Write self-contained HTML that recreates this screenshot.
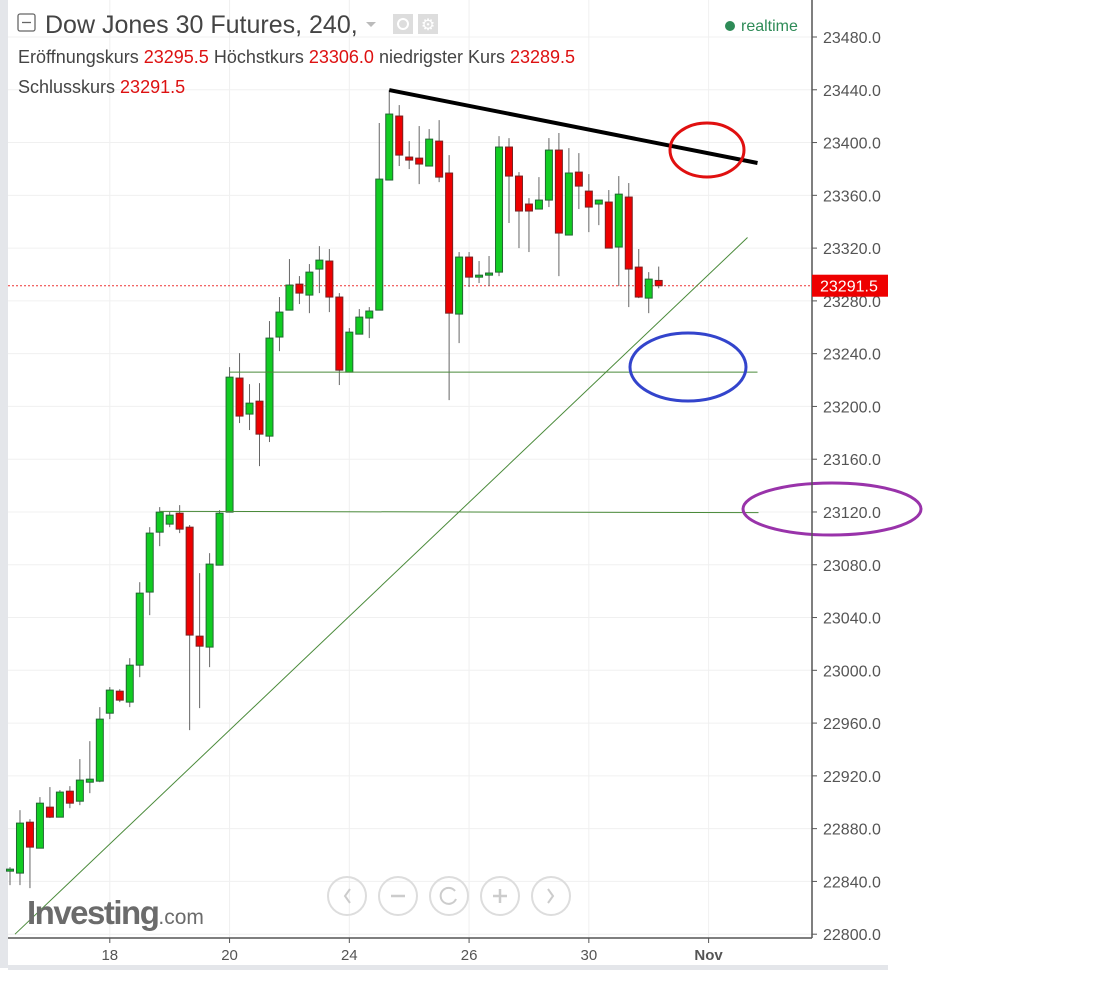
<!DOCTYPE html>
<html><head><meta charset="utf-8"><style>
html,body{margin:0;padding:0;background:#fff;}
svg{display:block;font-family:"Liberation Sans",sans-serif;}
</style></head><body>
<svg id="chart" width="1094" height="1000" viewBox="0 0 1094 1000" xmlns="http://www.w3.org/2000/svg">
<rect x="0" y="0" width="1094" height="1000" fill="#fff"/>
<rect x="0" y="0" width="8" height="968" fill="#e4e6ea"/>
<rect x="8" y="965" width="880" height="5" fill="#e4e6ea"/>
<g id="grid"></g>
<g id="candles"></g>
<g id="drawings"></g>
<g id="axes"></g>
<g>
  <rect x="18" y="14" width="17" height="17" rx="2" fill="none" stroke="#666" stroke-width="1.3"/>
  <line x1="22" y1="22.5" x2="31" y2="22.5" stroke="#666" stroke-width="1.3"/>
  <text x="45" y="33" font-size="25" fill="#444">Dow Jones 30 Futures, 240,</text>
  <path d="M366 22 l5 5 l5 -5z" fill="#bbb"/>
  <rect x="393" y="14" width="20" height="20" fill="#ddd"/>
  <circle cx="403" cy="24" r="5" fill="none" stroke="#fff" stroke-width="2"/>
  <rect x="418" y="14" width="20" height="20" fill="#ddd"/>
  <text x="428" y="30" font-size="16" fill="#fff" text-anchor="middle">⚙</text>
  <text x="18" y="63" font-size="18" fill="#444">Eröffnungskurs <tspan fill="#dd1111">23295.5</tspan> Höchstkurs <tspan fill="#dd1111">23306.0</tspan> niedrigster Kurs <tspan fill="#dd1111">23289.5</tspan></text>
  <text x="18" y="93" font-size="18" fill="#444">Schlusskurs <tspan fill="#dd1111">23291.5</tspan></text>
  <circle cx="730" cy="26" r="5" fill="#2e8b57"/>
  <text x="741" y="31" font-size="16" fill="#2e8b57">realtime</text>
</g>
<g>
  <text x="27" y="924" font-size="33" font-weight="bold" fill="#6b6b6b" letter-spacing="-1.5">Investing<tspan font-size="21" font-weight="normal" letter-spacing="0">.com</tspan></text>
</g>
<g>
  <circle cx="347" cy="896" r="19" fill="none" stroke="#ddd" stroke-width="2"/>
  <path d="M350 889 l-5 7 l5 7" fill="none" stroke="#ccc" stroke-width="2"/>
  <circle cx="398" cy="896" r="19" fill="none" stroke="#ddd" stroke-width="2"/>
  <line x1="391" y1="896" x2="405" y2="896" stroke="#ccc" stroke-width="2.5"/>
  <circle cx="449" cy="896" r="19" fill="none" stroke="#ddd" stroke-width="2"/>
  <path d="M455 891 a8 8 0 1 0 1 8" fill="none" stroke="#ccc" stroke-width="2"/>
  <circle cx="500" cy="896" r="19" fill="none" stroke="#ddd" stroke-width="2"/>
  <line x1="493" y1="896" x2="507" y2="896" stroke="#ccc" stroke-width="2.5"/><line x1="500" y1="889" x2="500" y2="903" stroke="#ccc" stroke-width="2.5"/>
  <circle cx="551" cy="896" r="19" fill="none" stroke="#ddd" stroke-width="2"/>
  <path d="M548 889 l5 7 l-5 7" fill="none" stroke="#ccc" stroke-width="2"/>
</g>
</svg>
<script>
const opens  = [22848.5,22846.3,22884.9,22865.2,22896.3,22888.7,22908.4,22900.8,22915.2,22916,22967.5,22984.2,22975.9,23003.9,23059.3,23104.7,23110.8,23119.1,23108.5,23025.9,23017.6,23079.7,23119.9,23221.5,23194.2,23204,23177.5,23252.6,23273,23292.7,23284.4,23304.1,23310.2,23282.9,23226,23254.8,23267,23273,23371.6,23420.1,23389,23388.2,23382.2,23401.1,23376.9,23270,23313.2,23298,23299.5,23301.8,23396.6,23374.6,23353.4,23349.6,23356.4,23394.3,23329.9,23377.6,23363.2,23353.4,23354.9,23320.8,23358.7,23305.6,23282.1,23295.5];
const highs  = [22850.8,22894,22887.2,22903.9,22911.5,22909.2,22912.2,22932.7,22946.3,22972.1,22987.3,22985.7,23009.2,23066.8,23108.5,23123.7,23120,23125.2,23110.1,23073.7,23088.8,23121.4,23229.8,23240.4,23216.9,23217.7,23264.7,23282.9,23311.7,23298.8,23307.9,23321.5,23319.3,23285.9,23259.4,23273.8,23275.3,23414.8,23439.8,23428.4,23401.1,23412.5,23410.2,23417,23390.5,23317,23317,23310.2,23314,23404.9,23403.4,23377.6,23357.9,23373.8,23403.4,23407.2,23395.8,23392,23376.1,23356.4,23364,23374.6,23369.3,23319.3,23301.8,23306];
const lows   = [22837.2,22837.2,22834.9,22865,22888,22888.5,22895.5,22897.8,22906.9,22915.2,22963,22975.9,22972.1,22994.8,23041.8,23094.1,23108.5,23104,22954.7,22971.3,23002.4,23079.7,23119.9,23187.4,23182.1,23154.8,23173,23241.9,23273,23277.6,23270.7,23285.9,23271.5,23216.2,23226,23254.8,23251.8,23273,23371.6,23382.2,23379.9,23368.5,23382.2,23370,23204.8,23248,23290.5,23293.5,23291.2,23298.8,23339,23320,23317,23349.6,23351.1,23298.8,23329.9,23349.6,23332.1,23337.4,23320,23291.2,23275.3,23282.1,23270.7,23289.5];
const closes = [22849.3,22884.2,22866,22899.3,22888.7,22907.7,22899.3,22916.8,22917.5,22963,22985,22977.4,23003.9,23058.5,23104,23119.9,23117.6,23107,23026.7,23018.3,23080.5,23119.1,23222.2,23192.7,23202.5,23179,23251.8,23271.5,23292,23285.9,23301.8,23310.9,23282.9,23227.5,23256.3,23267.7,23272.3,23372.3,23421.6,23390.5,23386.7,23383.7,23402.6,23373.8,23270.7,23313.2,23298,23299.5,23301.1,23396.6,23374.6,23348.1,23348.1,23356.4,23394.3,23331.4,23376.9,23367,23351.1,23356.4,23320,23360.9,23304.1,23282.9,23296.5,23291.5];
const yTicks = [23480,23440,23400,23360,23320,23280,23240,23200,23160,23120,23080,23040,23000,22960,22920,22880,22840,22800];
const xTickLabels = ["18","20","24","26","30","Nov"];
const xTickIndex = [10,22,34,46,58,70];
const lastPrice = 23291.5;

const NS="http://www.w3.org/2000/svg";
function y(v){return 37+(23480-v)*1.3194;}
function x(i){return 10+i*9.98;}
function mk(tag,attrs,parent){const e=document.createElementNS(NS,tag);for(const k in attrs)e.setAttribute(k,attrs[k]);parent.appendChild(e);return e;}
const grid=document.getElementById('grid'),cg=document.getElementById('candles'),dg=document.getElementById('drawings'),ax=document.getElementById('axes');

yTicks.forEach(v=>{
  const l=mk('line',{x1:8,x2:812,y1:y(v),y2:y(v),stroke:'#f0f0f0','stroke-width':1},grid);
  
  
  const t=mk('line',{x1:812,x2:817,y1:y(v),y2:y(v),stroke:'#555'},ax);
  
  
  const tx=mk('text',{x:823,y:y(v)+6,'font-size':16,fill:'#555'},ax);
  tx.textContent=v.toFixed(1);
  
  
});
xTickIndex.forEach((ix,k)=>{
  const l=mk('line',{x1:x(ix),x2:x(ix),y1:0,y2:938,stroke:'#f0f0f0'},grid);
  
  
  const t=mk('line',{x1:x(ix),x2:x(ix),y1:938,y2:943,stroke:'#555'},ax);
  
  
  const tx=mk('text',{x:x(ix),y:960,'font-size':15,fill:'#555','text-anchor':'middle','font-weight':xTickLabels[k]==='Nov'?'bold':'normal'},ax);
  tx.textContent=xTickLabels[k];
  
  
});
const xa=mk('line',{x1:8,x2:812,y1:938,y2:938,stroke:'#555','stroke-width':1.5},ax);


const ya=mk('line',{x1:812,x2:812,y1:0,y2:938,stroke:'#555','stroke-width':1.5},ax);



const pl=mk('line',{x1:8,x2:812,y1:y(lastPrice),y2:y(lastPrice),stroke:'#e33','stroke-width':1,'stroke-dasharray':'2,2'},grid);


const pb=mk('rect',{x:812,y:y(lastPrice)-11,width:76,height:22,fill:'#e00'},ax);


const pt=mk('text',{x:820,y:y(lastPrice)+6,'font-size':16,fill:'#fff'},ax);
pt.textContent=lastPrice.toFixed(1);



opens.forEach((o,i)=>{
  const c=closes[i],up=c>=o,cx=x(i);
  const w=mk('line',{x1:cx,x2:cx,y1:y(highs[i]),y2:y(lows[i]),stroke:'#666','stroke-width':1},cg);
  
  
  const top=y(Math.max(o,c)),h=Math.max(2,y(Math.min(o,c))-top);
  const b=mk('rect',{x:cx-3.5,y:top,width:7,height:h,fill:up?'#11cc22':'#ee0000',stroke:up?'#226633':'#772222','stroke-width':1},cg);
  
  
});

function ln(a,b,c,d,col,w,name){const e=mk('line',{x1:x(a),y1:y(b),x2:x(c),y2:y(d),stroke:col,'stroke-width':w},dg);}
ln(38,23439.8,74.9,23384.5,'#000',4,'resistance-trendline');
ln(0.5,22800,73.9,23328,'#4a8a3a',1,'support-trendline');
ln(22,23226,74.9,23226,'#4a8a3a',1,'support-level-23226');
ln(15,23120.5,75,23119.5,'#4a8a3a',1,'support-level-23120');
function el(cx,cy,rx,ry,col,name){const e=mk('ellipse',{cx:cx,cy:cy,rx:rx,ry:ry,fill:'none',stroke:col,'stroke-width':3},dg);}
el(707,150,37,27,'#e01010','red-ellipse');
el(688,367,58,34,'#3344cc','blue-ellipse');
el(832,509,89,26,'#9933aa','purple-ellipse');
</script>
</body></html>
